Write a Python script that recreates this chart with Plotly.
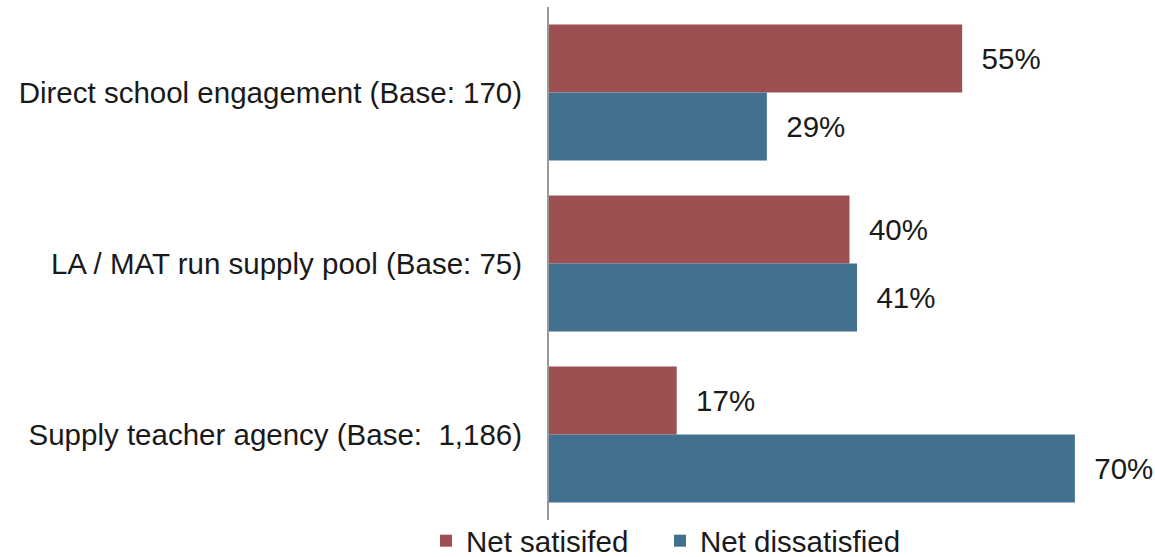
import plotly.graph_objects as go

categories = ["Direct school engagement (Base: 170)",
              "LA / MAT run supply pool (Base: 75)",
              "Supply teacher agency (Base:  1,186)"]
net_satisfied = [55, 40, 17]
net_dissatisfied = [29, 41, 70]

FS = 29.5

fig = go.Figure()
fig.add_trace(go.Bar(y=categories, x=net_satisfied, orientation="h", name="Net satisifed",
                     marker=dict(color="#9E4F51", line=dict(width=0)),
                     text=[f"\u00a0\u00a0{v}%" for v in net_satisfied], textposition="outside",
                     textfont=dict(size=FS, color="#1a1a1a"),
                     cliponaxis=False, legend="legend"))
fig.add_trace(go.Bar(y=categories, x=net_dissatisfied, orientation="h", name="Net dissatisfied",
                     marker=dict(color="#41718F", line=dict(width=0)),
                     text=[f"\u00a0\u00a0{v}%" for v in net_dissatisfied], textposition="outside",
                     textfont=dict(size=FS, color="#1a1a1a"),
                     cliponaxis=False, legend="legend2"))

W, H = 1155, 557
PLOT_H = 513
leg_common = dict(orientation="h", xanchor="left", xref="container",
                  y=-(541 - 520) / PLOT_H, yanchor="middle", yref="paper",
                  font=dict(size=FS), itemwidth=30, bgcolor="rgba(0,0,0,0)")

fig.update_layout(
    width=W, height=H,
    margin=dict(l=549, r=5, t=7, b=37, autoexpand=False),
    paper_bgcolor="white", plot_bgcolor="white",
    font=dict(family="Liberation Sans, Arial, sans-serif", size=FS, color="#1a1a1a"),
    barmode="group", bargap=0.205, bargroupgap=0,
    showlegend=True,
    legend=dict(x=426 / W, **leg_common),
    legend2=dict(x=660 / W, **leg_common),
    xaxis=dict(range=[0, 80], showgrid=False, showticklabels=False, zeroline=False,
               showline=False, fixedrange=True),
    yaxis=dict(autorange="reversed", showgrid=False, showline=True, linecolor="#999999",
               linewidth=2, ticks="", ticklabelstandoff=19, tickfont=dict(size=FS)),
)
fig.write_html("out.html", config={"displayModeBar": False},
               post_script="document.body.style.margin='0';document.body.style.overflow='hidden';")
